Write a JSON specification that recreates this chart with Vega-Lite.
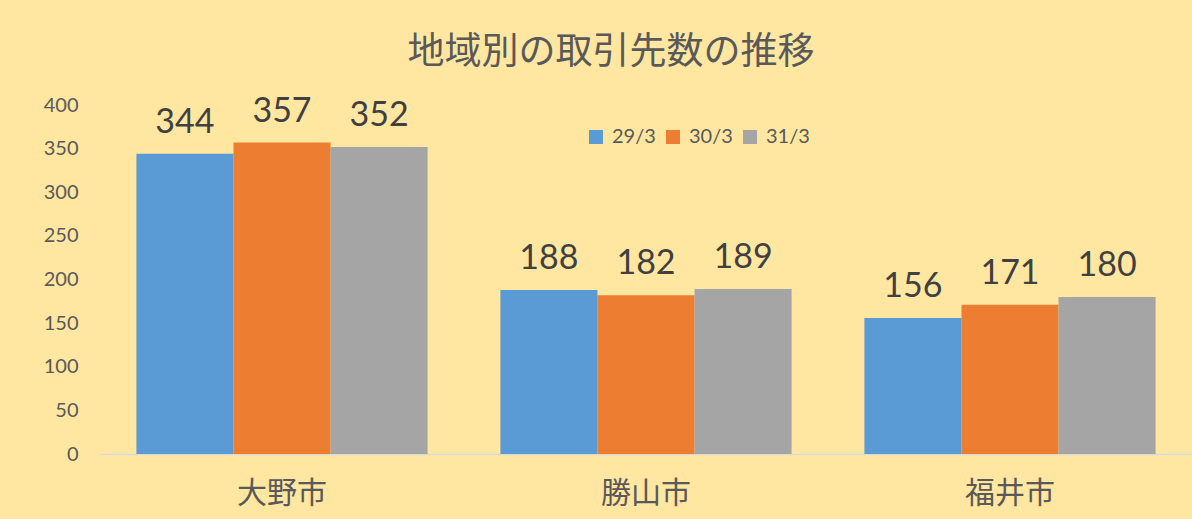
{
  "$schema": "https://vega.github.io/schema/vega-lite/v6.json",
  "width": 1092,
  "height": 349,
  "autosize": {"type": "none"},
  "padding": {"left": 100, "top": 105, "right": 0, "bottom": 65},
  "background": "#ffe7a2",
  "config": {"view": {"stroke": null}},
  "title": {
    "text": "地域別の取引先数の推移",
    "font": "Noto Sans CJK JP",
    "fontSize": 37,
    "fontWeight": "normal",
    "color": "#595959",
    "anchor": "middle",
    "frame": "group",
    "baseline": "alphabetic",
    "dx": -35,
    "offset": -6
  },
  "data": {
    "values": [
      {"city": "大野市", "year": "29/3", "count": 344},
      {"city": "大野市", "year": "30/3", "count": 357},
      {"city": "大野市", "year": "31/3", "count": 352},
      {"city": "勝山市", "year": "29/3", "count": 188},
      {"city": "勝山市", "year": "30/3", "count": 182},
      {"city": "勝山市", "year": "31/3", "count": 189},
      {"city": "福井市", "year": "29/3", "count": 156},
      {"city": "福井市", "year": "30/3", "count": 171},
      {"city": "福井市", "year": "31/3", "count": 180}
    ]
  },
  "encoding": {
    "x": {
      "field": "city",
      "type": "nominal",
      "sort": ["大野市", "勝山市", "福井市"],
      "scale": {"paddingInner": 0.2, "paddingOuter": 0.1},
      "axis": {
        "title": null,
        "labelAngle": 0,
        "labelFont": "Noto Sans CJK JP",
        "labelFontSize": 30,
        "labelColor": "#595959",
        "labelPadding": 24,
        "ticks": false,
        "domainColor": "#d9d9d9",
        "domainWidth": 1.5,
        "grid": false
      }
    },
    "xOffset": {
      "field": "year",
      "type": "nominal",
      "scale": {"paddingInner": 0, "paddingOuter": 0}
    },
    "y": {
      "field": "count",
      "type": "quantitative",
      "scale": {"domain": [0, 400]},
      "axis": {
        "title": null,
        "values": [0, 50, 100, 150, 200, 250, 300, 350, 400],
        "labelFont": "Lato",
        "labelFontSize": 20,
        "labelColor": "#595959",
        "labelPadding": 22,
        "ticks": false,
        "domain": false,
        "grid": false
      }
    }
  },
  "layer": [
    {
      "mark": {"type": "bar"},
      "encoding": {
        "color": {
          "field": "year",
          "type": "nominal",
          "scale": {"domain": ["29/3", "30/3", "31/3"], "range": ["#5b9bd5", "#ed7d31", "#a5a5a5"]},
          "legend": {
            "title": null,
            "orient": "none",
            "direction": "horizontal",
            "legendX": 486,
            "legendY": 22,
            "symbolType": "square",
            "symbolSize": 196,
            "symbolStrokeWidth": 0,
            "labelFont": "Lato",
            "labelFontSize": 20,
            "labelColor": "#595959",
            "labelOffset": 6,
            "columnPadding": 7,
            "padding": 0
          }
        }
      }
    },
    {
      "mark": {
        "type": "text",
        "baseline": "alphabetic",
        "dy": -21,
        "font": "Lato",
        "fontSize": 34,
        "color": "#404040"
      },
      "encoding": {
        "text": {"field": "count", "type": "quantitative"}
      }
    }
  ]
}
